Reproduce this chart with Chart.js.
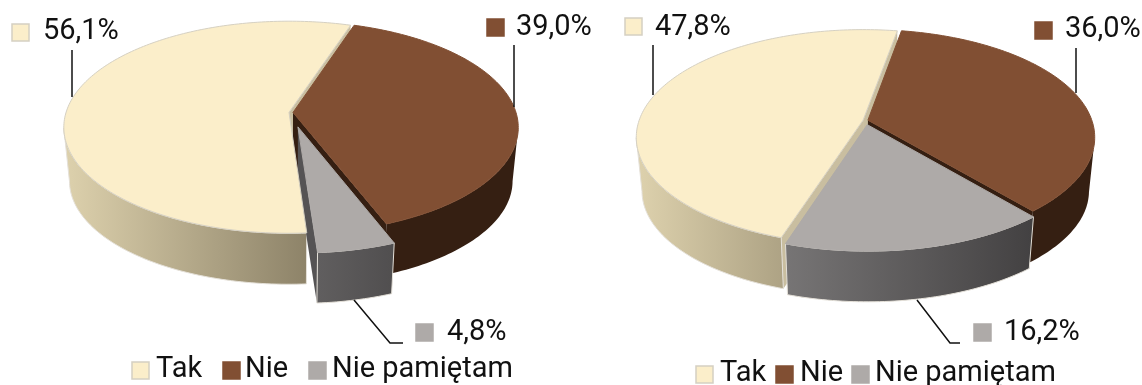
<!DOCTYPE html>
<html>
<head>
<meta charset="utf-8">
<style>
  html, body { margin: 0; padding: 0; background: #fff; overflow: hidden; }
  canvas { position: absolute; left: 0; top: 0; }
</style>
<script src="https://cdn.jsdelivr.net/npm/chart.js@4"></script>
</head>
<body>
<canvas id="chartLeft" width="1142" height="385"></canvas>
<canvas id="chartRight" width="1142" height="385"></canvas>
<script>
var categories = ["Tak", "Nie", "Nie pamiętam"];
var valuesLeft = [56.1, 39.0, 4.8];
var valuesRight = [47.8, 36.0, 16.2];

var topColors = ["#fbeeca", "#814f33", "#aeaaa8"];
var borderColors = ["#d5d0c2", "#814f33", "#aeaaa8"];
var faceColors = ["#c9bea0", "#351f12", "#555354"];
var sideFrom = ["#dcd0ac", "#351f12", "#959393"];
var sideTo = ["#49402e", "#351f12", "#373536"];

function pct(v) {
  return v.toFixed(1).replace(".", ",") + "%";
}

// rough perspective of the disc, h = 0 top face, h = 1 bottom face
function project(v, u, w, h) {
  var k = 1 / (1 - v.persp * w);
  var s = 1 - v.inset * h;
  return {
    x: v.cx + v.rx * s * u * k,
    y: v.cy + v.depth * h + v.ry * s * w * k
  };
}

function tracePoints(ctx, pts) {
  ctx.beginPath();
  pts.forEach(function (p, i) {
    if (i == 0) ctx.moveTo(p.x, p.y);
    else ctx.lineTo(p.x, p.y);
  });
  ctx.closePath();
}

function drawLabel(ctx, item, text, color, border) {
  ctx.strokeStyle = "#111";
  ctx.lineWidth = 1.5;
  ctx.beginPath();
  item.line.forEach(function (p, i) {
    if (i == 0) ctx.moveTo(p[0], p[1]);
    else ctx.lineTo(p[0], p[1]);
  });
  ctx.stroke();
  ctx.fillStyle = color;
  ctx.fillRect(item.box[0], item.box[1], 17, 17);
  ctx.strokeStyle = border;
  ctx.lineWidth = 1.5;
  ctx.strokeRect(item.box[0], item.box[1], 17, 17);
  ctx.fillStyle = "#111";
  ctx.font = "29px Roboto";
  ctx.textAlign = "left";
  ctx.textBaseline = "middle";
  ctx.fillText(text, item.text[0], item.text[1]);
}

var pie3d = {
  id: "pie3d",
  beforeDatasetDraw: function (chart) {
    var ctx = chart.ctx;
    var v = chart.options.plugins.pie3d;
    var arcs = chart.getDatasetMeta(0).data;
    var tops = [];
    ctx.save();
    ctx.lineJoin = "round";
    arcs.forEach(function (el, i) {
      var a0 = el.startAngle, a1 = el.endAngle;
      var mid = (a0 + a1) / 2;
      var e = el.options.offset / v.rx;
      var ou = e * Math.cos(mid), ow = e * Math.sin(mid);
      var top = [], wallTop = [], wallLow = [];
      var n = Math.ceil((a1 - a0) / 0.02);
      for (var j = 0; j <= n; j++) {
        var a = a0 + (a1 - a0) * j / n;
        top.push(project(v, ou + Math.cos(a), ow + Math.sin(a), 0));
        // only the part of the rim that faces the viewer
        if (Math.sin(a) >= v.persp) {
          wallTop.push(top[top.length - 1]);
          wallLow.push(project(v, ou + Math.cos(a), ow + Math.sin(a), 1));
        }
      }
      var tip = project(v, ou, ow, 0);
      var tipLow = project(v, ou, ow, 1);
      var inner = project(v, ou + 0.5 * Math.cos(mid), ow + 0.5 * Math.sin(mid), 0);
      var low0 = project(v, ou + Math.cos(a0), ow + Math.sin(a0), 1);
      var low1 = project(v, ou + Math.cos(a1), ow + Math.sin(a1), 1);

      // cut faces, only the ones turned to the viewer
      [[top[0], low0], [top[n], low1]].forEach(function (edge) {
        var dx = edge[0].x - tip.x, dy = edge[0].y - tip.y;
        var sideLow = dx * (tipLow.y - tip.y) - dy * (tipLow.x - tip.x);
        var sideIn = dx * (inner.y - tip.y) - dy * (inner.x - tip.x);
        if (sideLow * sideIn < 0) {
          tracePoints(ctx, [tip, edge[0], edge[1], tipLow]);
          ctx.fillStyle = faceColors[i];
          ctx.fill();
        }
      });

      // rim wall
      if (wallTop.length > 1) {
        var grad = ctx.createLinearGradient(v.cx - v.rx, 0, v.cx + v.rx, 0);
        grad.addColorStop(0, sideFrom[i]);
        grad.addColorStop(1, sideTo[i]);
        tracePoints(ctx, wallTop.concat(wallLow.reverse()));
        ctx.fillStyle = grad;
        ctx.fill();
        if (i != 1) {
          ctx.strokeStyle = "#e4e0d8";
          ctx.lineWidth = 1;
          ctx.stroke();
        }
      }
      tops.push([tip].concat(top));
    });

    // top faces go last so they hide whatever sits under them
    arcs.forEach(function (el, i) {
      tracePoints(ctx, tops[i]);
      ctx.fillStyle = el.options.backgroundColor;
      ctx.fill();
      ctx.strokeStyle = el.options.borderColor;
      ctx.lineWidth = 1;
      ctx.stroke();
    });
    ctx.restore();
    return false;
  },
  afterDraw: function (chart) {
    var ctx = chart.ctx;
    var v = chart.options.plugins.pie3d;
    var vals = chart.data.datasets[0].data;
    ctx.save();
    v.labels.forEach(function (item, i) {
      drawLabel(ctx, item, pct(vals[i]), topColors[i], borderColors[i]);
    });
    categories.forEach(function (name, i) {
      var b = v.legendBox[i];
      ctx.fillStyle = topColors[i];
      ctx.fillRect(b, v.legendY - 8, 17, 17);
      ctx.strokeStyle = borderColors[i];
      ctx.lineWidth = 1.5;
      ctx.strokeRect(b, v.legendY - 8, 17, 17);
      ctx.fillStyle = "#111";
      ctx.font = "29px Roboto";
      ctx.textAlign = "left";
      ctx.textBaseline = "middle";
      ctx.fillText(name, v.legendText[i], v.legendY);
    });
    ctx.restore();
  }
};

function makePie(id, values, rotation, offsets, view) {
  return new Chart(document.getElementById(id), {
    type: "pie",
    data: {
      labels: categories,
      datasets: [{
        data: values,
        backgroundColor: topColors,
        borderColor: borderColors,
        offset: offsets
      }]
    },
    options: {
      responsive: false,
      animation: false,
      events: [],
      rotation: rotation,
      plugins: {
        legend: { display: false },
        tooltip: { enabled: false },
        pie3d: view
      }
    },
    plugins: [pie3d]
  });
}

makePie("chartLeft", valuesLeft, 176, [2, 2, 31], {
  cx: 291, cy: 112.5, rx: 223, ry: 104, persp: 0.14, depth: 54, inset: 0.025,
  legendY: 370,
  legendBox: [132, 223, 309],
  legendText: [156, 245, 332],
  labels: [
    { box: [12, 24], text: [43, 32], line: [[72, 50], [72, 97]] },
    { box: [487, 19], text: [516, 28], line: [[514, 45], [514, 107]] },
    { box: [416, 324], text: [447, 333], line: [[354, 300], [390, 343], [403, 343]] }
  ]
});

makePie("chartRight", valuesRight, 198, [2.5, 2.5, 9], {
  cx: 865.5, cy: 120.5, rx: 224, ry: 105, persp: 0.158, depth: 54, inset: 0.025,
  legendY: 374,
  legendBox: [696, 776, 852],
  legendText: [720, 800, 875],
  labels: [
    { box: [625, 18], text: [655, 28], line: [[653, 45], [653, 95]] },
    { box: [1035, 22], text: [1065, 30], line: [[1076, 48], [1076, 93]] },
    { box: [974, 324], text: [1004, 333], line: [[917, 300], [950, 343], [960, 343]] }
  ]
});
</script>
</body>
</html>
